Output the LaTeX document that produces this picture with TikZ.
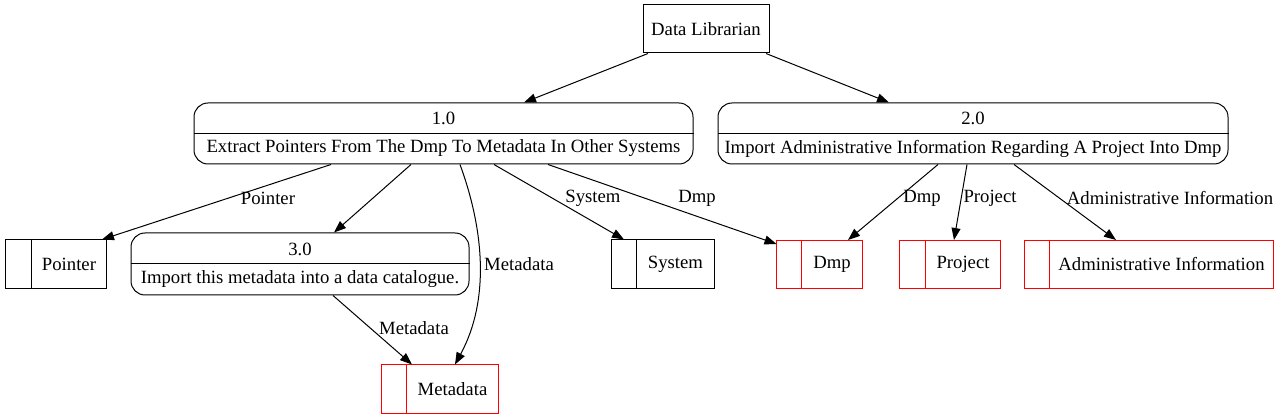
\documentclass[tikz,border=0pt]{standalone}
\usepackage{fontspec}
\setmainfont{Liberation Serif}
\usetikzlibrary{arrows.meta,calc}
\begin{document}
\begin{tikzpicture}[x=1pt,y=-1pt,
  every node/.style={font=\fontsize{18.7}{21}\selectfont, inner sep=0pt},
  proc/.style={draw, rounded corners=14pt, line width=1pt},
  extbox/.style={draw, line width=1pt},
  store/.style={draw, line width=1pt},
  redstore/.style={store, draw=red},
  flow/.style={line width=1pt, -{Triangle[length=12pt,width=9pt]}},
  lbl/.style={fill=none}
]
\useasboundingbox (0,0) rectangle (1277,419);
% external entity
\node[extbox, minimum width=126pt, minimum height=48pt] (dl) at (706,29) {Data Librarian};
% processes
\node[proc, minimum width=499pt, minimum height=61pt] (p1) at (443.5,133.5) {};
\draw[line width=1pt] (p1.west) -- (p1.east);
\node (p1id) at ($(p1.center)+(0,-15)$) {1.0};
\node (p1tx) at ($(p1.center)+(0,15)$) {Extract Pointers From The Dmp To Metadata In Other Systems};
\node[proc, minimum width=510pt, minimum height=61pt] (p2) at (973,133.5) {};
\draw[line width=1pt] (p2.west) -- (p2.east);
\node (p2id) at ($(p2.center)+(0,-15)$) {2.0};
\node (p2tx) at ($(p2.center)+(0,15)$) {Import Administrative Information Regarding A Project Into Dmp};
\node[proc, minimum width=338pt, minimum height=62pt] (p3) at (300,264) {};
\draw[line width=1pt] (p3.west) -- (p3.east);
\node (p3id) at ($(p3.center)+(0,-15)$) {3.0};
\node (p3tx) at ($(p3.center)+(0,15)$) {Import this metadata into a data catalogue.};
% data stores
\node[store, minimum width=101pt, minimum height=49pt] (pointer) at (55.5,264.5) {};
\draw[line width=1pt] (pointer.north west) ++(27,0) -- ++(0,49);
\node at (69,264.5) {Pointer};
\node[store, minimum width=103pt, minimum height=49pt] (system) at (662.5,264.5) {};
\draw[line width=1pt] (system.north west) ++(26,0) -- ++(0,49);
\node at (675.5,264.5) {System};
\node[redstore, minimum width=86pt, minimum height=48pt] (dmp) at (819,264.5) {};
\draw[line width=1pt, red] (dmp.north west) ++(26,0) -- ++(0,48);
\node at (832,264.5) {Dmp};
\node[redstore, minimum width=101pt, minimum height=48pt] (project) at (950,264.5) {};
\draw[line width=1pt, red] (project.north west) ++(26,0) -- ++(0,48);
\node at (963,264.5) {Project};
\node[redstore, minimum width=249pt, minimum height=48pt] (admin) at (1148.5,264.5) {};
\draw[line width=1pt, red] (admin.north west) ++(26,0) -- ++(0,48);
\node at (1161.5,264.5) {Administrative Information};
\node[redstore, minimum width=117pt, minimum height=48pt] (meta) at (439.5,389) {};
\draw[line width=1pt, red] (meta.north west) ++(26,0) -- ++(0,48);
\node at (452.5,389) {Metadata};
% flows
\draw[flow] (dl.south -| 648,0) -- (p1.north -| 524,0);
\draw[flow] (dl.south -| 766,0) -- (p2.north -| 889,0);
\draw[flow] (p1.south -| 331,0) -- (pointer.north -| 102,0);
\draw[flow] (p1.south -| 411,0) -- (p3.north -| 334,0);
\draw[flow] (p1.south -| 460,0) .. controls (484,230) and (490,300) .. (meta.north -| 455,0);
\draw[flow] (p1.south -| 494,0) -- (system.north -| 624,0);
\draw[flow] (p1.south -| 548,0) -- ($(dmp.north west)+(1,4)$);
\draw[flow] (p3.south -| 333,0) -- (meta.north -| 412,0);
\draw[flow] (p2.south -| 938,0) -- (dmp.north -| 848,0);
\draw[flow] (p2.south -| 967,0) -- (project.north -| 954,0);
\draw[flow] (p2.south -| 1014,0) -- (admin.north -| 1116,0);
% labels
\node[lbl] (l1) at (268,198) {Pointer};
\node[lbl] (l2) at (593,198) {System};
\node[lbl] (l3) at (697,198) {Dmp};
\node[lbl] (l4) at (519,264) {Metadata};
\node[lbl] (l5) at (414,328) {Metadata};
\node[lbl] (l6) at (922,198) {Dmp};
\node[lbl] (l7) at (990,198) {Project};
\node[lbl] (l8) at (1170,198) {Administrative Information};
\end{tikzpicture}
\end{document}
